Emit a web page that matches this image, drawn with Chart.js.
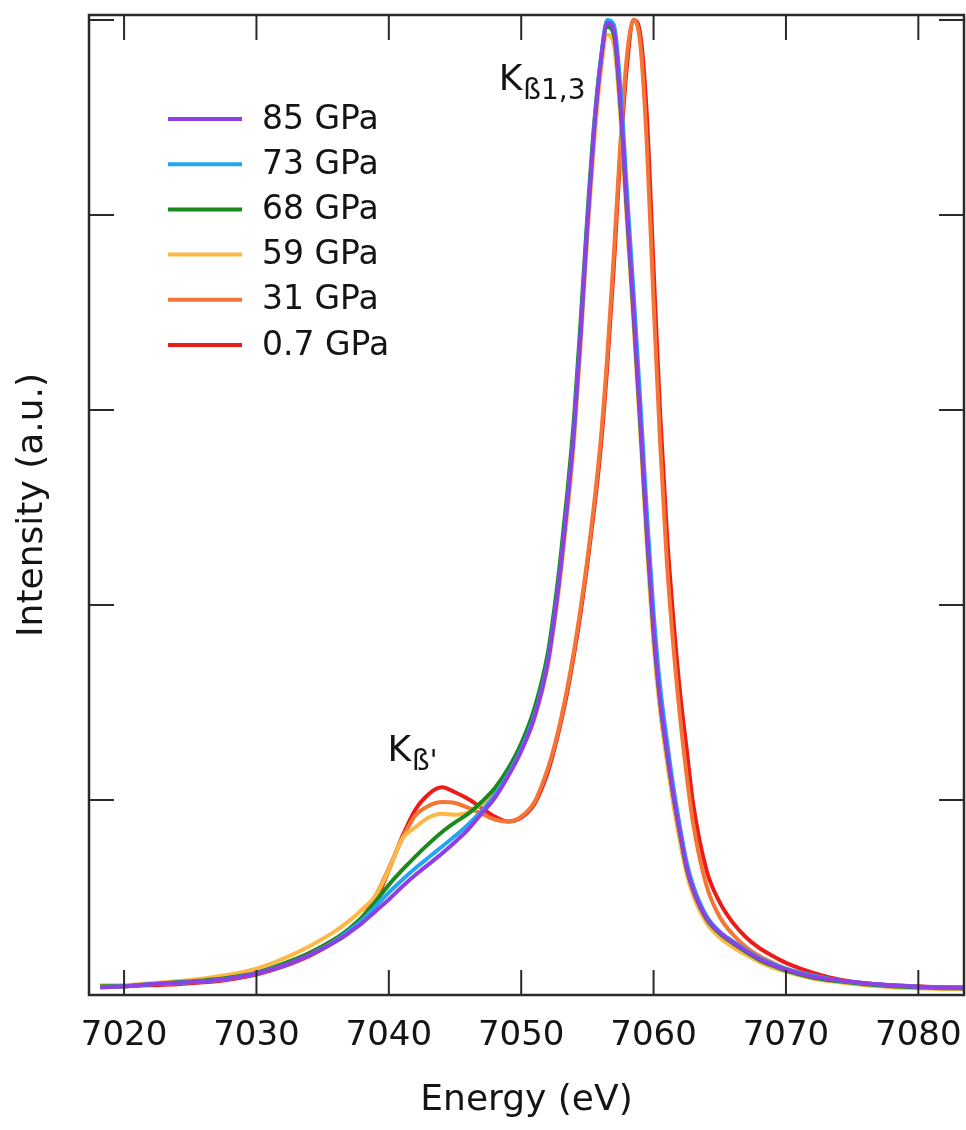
<!DOCTYPE html>
<html>
<head>
<meta charset="utf-8">
<script src="https://cdn.jsdelivr.net/npm/chart.js@4.4.1/dist/chart.umd.min.js"></script>
<style>
  html, body { margin: 0; padding: 0; background: #fff; }
  #wrap { width: 966px; height: 1130px; }
</style>
</head>
<body>
<div id="wrap"><canvas id="spec" width="966" height="1130"></canvas></div>
<script>
// Kbeta emission spectra, normalised to the main peak
const energy = [7018.2, 7020, 7022, 7024, 7026, 7028, 7030, 7032, 7034, 7036, 7037, 7038, 7039, 7040,
  7041, 7042, 7043, 7044, 7045, 7046, 7047, 7048, 7049, 7050, 7051,
  7052, 7052.5, 7053, 7053.5, 7054, 7054.5, 7055, 7055.5, 7056, 7056.5,
  7057, 7057.5, 7058, 7058.5, 7059, 7059.5, 7060, 7060.5, 7061, 7061.5, 7062, 7062.5, 7063,
  7064, 7065, 7066, 7067, 7068, 7069, 7070, 7072, 7074, 7076, 7078, 7080, 7082, 7083.4];

const gpa85 = [0.008, 0.009, 0.011, 0.0125, 0.014, 0.017, 0.022, 0.030, 0.041, 0.055, 0.064, 0.074, 0.086, 0.098,
  0.111, 0.123, 0.134, 0.145, 0.157, 0.170, 0.186, 0.202, 0.224, 0.250, 0.285,
  0.340, 0.385, 0.440, 0.505, 0.580, 0.680, 0.790, 0.885, 0.955, 0.997,
  0.990, 0.915, 0.805, 0.700, 0.590, 0.475, 0.375, 0.302, 0.251, 0.205, 0.166, 0.131, 0.108,
  0.079, 0.064, 0.054, 0.045, 0.037, 0.031, 0.026, 0.019, 0.015, 0.012, 0.010, 0.0085, 0.0075, 0.007];

const gpa73 = [0.008, 0.009, 0.011, 0.0125, 0.014, 0.017, 0.022, 0.030, 0.041, 0.056, 0.066, 0.077, 0.091, 0.105,
  0.118, 0.130, 0.141, 0.152, 0.163, 0.175, 0.189, 0.205, 0.226, 0.252, 0.287,
  0.342, 0.387, 0.441, 0.506, 0.581, 0.681, 0.791, 0.887, 0.958, 1.000,
  0.995, 0.930, 0.822, 0.718, 0.608, 0.493, 0.392, 0.316, 0.262, 0.213, 0.172, 0.136, 0.112,
  0.081, 0.065, 0.055, 0.046, 0.038, 0.032, 0.027, 0.020, 0.015, 0.012, 0.010, 0.0085, 0.0075, 0.007];

const gpa68 = [0.009, 0.009, 0.011, 0.013, 0.015, 0.018, 0.023, 0.032, 0.043, 0.058, 0.068, 0.080, 0.096, 0.113,
  0.128, 0.142, 0.155, 0.167, 0.177, 0.186, 0.198, 0.212, 0.232, 0.258, 0.294,
  0.350, 0.396, 0.452, 0.518, 0.594, 0.694, 0.800, 0.892, 0.958, 0.993,
  0.985, 0.910, 0.800, 0.695, 0.585, 0.470, 0.372, 0.300, 0.249, 0.204, 0.165, 0.130, 0.107,
  0.078, 0.063, 0.053, 0.044, 0.036, 0.030, 0.025, 0.018, 0.014, 0.011, 0.009, 0.008, 0.007, 0.007];

const gpa59 = [0.010, 0.010, 0.012, 0.014, 0.017, 0.021, 0.027, 0.037, 0.050, 0.066, 0.076, 0.088, 0.102, 0.128,
  0.160, 0.172, 0.182, 0.186, 0.185, 0.187, 0.196, 0.207, 0.226, 0.251, 0.283,
  0.336, 0.380, 0.432, 0.495, 0.568, 0.668, 0.778, 0.872, 0.945, 0.985,
  0.975, 0.900, 0.790, 0.685, 0.575, 0.460, 0.360, 0.290, 0.240, 0.195, 0.157, 0.124, 0.102,
  0.074, 0.059, 0.049, 0.041, 0.034, 0.028, 0.024, 0.017, 0.013, 0.010, 0.008, 0.007, 0.006, 0.006];

const gpa31 = [0.009, 0.009, 0.011, 0.012, 0.014, 0.017, 0.022, 0.031, 0.043, 0.058, 0.067, 0.080, 0.102, 0.130,
  0.160, 0.184, 0.194, 0.198, 0.197, 0.192, 0.186, 0.180, 0.178, 0.183, 0.198,
  0.232, 0.255, 0.283, 0.316, 0.354, 0.398, 0.447, 0.503, 0.568, 0.655,
  0.760, 0.875, 0.965, 1.000, 0.975, 0.870, 0.710, 0.565, 0.445, 0.357, 0.285, 0.225, 0.175,
  0.112, 0.080, 0.062, 0.049, 0.040, 0.033, 0.027, 0.019, 0.014, 0.011, 0.009, 0.008, 0.007, 0.007];

const gpa07 = [0.008, 0.009, 0.010, 0.011, 0.013, 0.016, 0.021, 0.029, 0.040, 0.055, 0.064, 0.077, 0.097, 0.128,
  0.162, 0.190, 0.206, 0.213, 0.208, 0.201, 0.192, 0.183, 0.178, 0.182, 0.196,
  0.228, 0.252, 0.280, 0.312, 0.350, 0.393, 0.442, 0.497, 0.560, 0.645,
  0.748, 0.865, 0.955, 1.000, 0.985, 0.900, 0.745, 0.595, 0.475, 0.385, 0.310, 0.252, 0.195,
  0.128, 0.095, 0.074, 0.059, 0.048, 0.040, 0.033, 0.023, 0.016, 0.012, 0.010, 0.009, 0.008, 0.008];

const labels = ['85 GPa', '73 GPa', '68 GPa', '59 GPa', '31 GPa', '0.7 GPa'];
const colors = ['#8f3fe4', '#22a6f2', '#1b8a1e', '#ffb845', '#f47636', '#ec1c18'];
const seriesList = [gpa85, gpa73, gpa68, gpa59, gpa31, gpa07];

const xTicks = [7020, 7030, 7040, 7050, 7060, 7070, 7080];
const yTicks = [0, 0.2, 0.4, 0.6, 0.8, 1.0];

const FONT = 'DejaVu Sans';
const INK = '#141414';
const TICK_LEN = 25;

var datasets = [];
for (var i = 0; i < seriesList.length; i++) {
    datasets.push({
        label: labels[i],
        data: energy.map((e, k) => ({ x: e, y: seriesList[i][k] })),
        borderColor: colors[i],
        backgroundColor: colors[i],
        borderWidth: 4,
        pointRadius: 0,
        cubicInterpolationMode: 'monotone',
    });
}

// inward ticks on all four sides plus the box
const frameTicks = {
    id: 'frameTicks',
    afterDatasetsDraw(chart) {
        const { ctx, chartArea: a, scales: { x, y } } = chart;
        ctx.save();
        ctx.strokeStyle = '#2a2a2a';
        ctx.lineWidth = 2;
        ctx.beginPath();
        for (const t of x.ticks) {
            const px = x.getPixelForValue(t.value);
            ctx.moveTo(px, a.bottom); ctx.lineTo(px, a.bottom - TICK_LEN);
            ctx.moveTo(px, a.top); ctx.lineTo(px, a.top + TICK_LEN);
        }
        for (const t of y.ticks) {
            const py = y.getPixelForValue(t.value);
            ctx.moveTo(a.left, py); ctx.lineTo(a.left + TICK_LEN, py);
            ctx.moveTo(a.right, py); ctx.lineTo(a.right - TICK_LEN, py);
        }
        ctx.stroke();
        ctx.lineWidth = 2.5;
        ctx.strokeRect(a.left, a.top, a.right - a.left, a.bottom - a.top);
        ctx.restore();
    }
};

// legend block in the upper left of the plot
const innerLegend = {
    id: 'innerLegend',
    afterDraw(chart) {
        const { ctx, chartArea: a } = chart;
        ctx.save();
        ctx.font = '33px "' + FONT + '"';
        ctx.textBaseline = 'middle';
        ctx.fillStyle = INK;
        chart.data.datasets.forEach((ds, i) => {
            const yy = a.top + 104 + i * 45.2;
            ctx.strokeStyle = ds.borderColor;
            ctx.lineWidth = 4;
            ctx.beginPath();
            ctx.moveTo(a.left + 79, yy);
            ctx.lineTo(a.left + 153, yy);
            ctx.stroke();
            ctx.fillText(ds.label, a.left + 173, yy + 1);
        });
        ctx.restore();
    }
};

// peak labels K_{ß1,3} and K_{ß'}
const peakLabels = {
    id: 'peakLabels',
    afterDraw(chart) {
        const { ctx, scales: { x, y } } = chart;
        const marks = [
            { e: 7048.3, v: 0.928, sub: 'ß1,3' },
            { e: 7039.9, v: 0.240, sub: "ß'" },
        ];
        ctx.save();
        ctx.fillStyle = INK;
        ctx.textBaseline = 'alphabetic';
        for (const m of marks) {
            const px = x.getPixelForValue(m.e);
            const py = y.getPixelForValue(m.v);
            ctx.font = '36px "' + FONT + '"';
            ctx.fillText('K', px, py);
            const w = ctx.measureText('K').width;
            ctx.font = '28px "' + FONT + '"';
            ctx.fillText(m.sub, px + w + 1, py + 9);
        }
        ctx.restore();
    }
};

var options = {
    responsive: false,
    animation: false,
    devicePixelRatio: 1,
    layout: {
        padding: { top: 15, right: 2, left: 0, bottom: 0 }
    },
    plugins: {
        legend: { display: false },
        tooltip: { enabled: false },
    },
    scales: {
        x: {
            type: 'linear',
            min: 7017.35,
            max: 7083.45,
            afterBuildTicks: (s) => { s.ticks = xTicks.map(v => ({ value: v })); },
            afterFit: (s) => { s.height = 135; s.paddingLeft = 0; s.paddingRight = 0; },
            grid: { display: false },
            border: { display: false },
            ticks: {
                color: INK,
                padding: 13,
                maxRotation: 0,
                font: { family: FONT, size: 34 },
                callback: (v) => String(v),
            },
            title: {
                display: true,
                text: 'Energy (eV)',
                color: INK,
                padding: { top: 0, bottom: 8 },
                font: { family: FONT, size: 36 },
            }
        },
        y: {
            type: 'linear',
            min: 0,
            max: 1.0052,
            afterBuildTicks: (s) => { s.ticks = yTicks.map(v => ({ value: v })); },
            afterFit: (s) => { s.width = 89; s.paddingTop = 0; s.paddingBottom = 0; },
            grid: { display: false },
            border: { display: false },
            ticks: { display: false },
            title: {
                display: true,
                text: 'Intensity (a.u.)',
                color: INK,
                padding: { top: 11, bottom: 0 },
                font: { family: FONT, size: 36 },
            }
        }
    }
};

new Chart(document.getElementById('spec'), {
    type: 'line',
    data: { datasets: datasets },
    options: options,
    plugins: [frameTicks, innerLegend, peakLabels]
});
</script>
</body>
</html>
